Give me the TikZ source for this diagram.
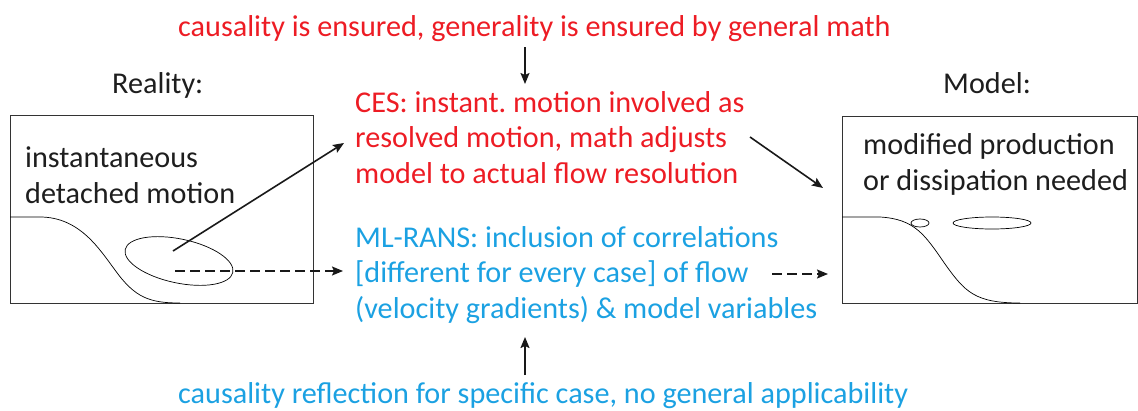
\documentclass[tikz,border=0pt]{standalone}
\usepackage{fontspec}
\setmainfont{Carlito}
\usetikzlibrary{arrows.meta}
\definecolor{cred}{RGB}{237,28,36}
\definecolor{cblue}{RGB}{27,161,226}
\definecolor{ctext}{RGB}{30,30,30}
\frenchspacing
\begin{document}
\begin{tikzpicture}[x=1pt,y=-1pt,
  txt/.style={inner sep=0pt,anchor=base west,align=left,font=\fontsize{30.2}{35.5}\selectfont\frenchspacing},
  frame/.style={draw=black!80,line width=0.9pt},
  thin/.style={draw=black,line width=0.7pt},
  arr/.style={draw=black!90,line width=1.6pt,-{Stealth[length=11pt,width=9pt,inset=2pt]}},
  darr/.style={arr,dash pattern=on 10pt off 5pt}]
\useasboundingbox (0,0) rectangle (1138,410);
% boxes
\node[frame,minimum width=303pt,minimum height=188pt,inner sep=0pt,anchor=north west] (lbox) at (10,115) {};
\node[frame,minimum width=295pt,minimum height=187pt,inner sep=0pt,anchor=north west] (rbox) at (842,116) {};
% curves
\draw[thin] (10,217) -- (40,217) .. controls (80,217) and (100,250) .. (115,270) .. controls (135,298) and (150,303) .. (180,303);
\draw[thin] (842,217) -- (880,217) .. controls (915,219) and (925,235) .. (945,264) .. controls (965,292) and (975,303) .. (1020,303);
% ellipses
\draw[thin,rotate around={-12:(179,261)}] (179,261) ellipse [x radius=55, y radius=22];
\coordinate (ecen) at (173,251);
\coordinate (edash) at (175,271);
\draw[thin] (920,223) ellipse [x radius=9, y radius=4];
\draw[thin] (992,223) ellipse [x radius=39, y radius=6];
% titles
\node[txt,text=ctext] (real) at (112,93) {Reality:};
\node[txt,text=ctext] (model) at (943,93) {Model:};
\node[txt,text=ctext] (ltext) at (25,203) {instantaneous\\detached motion};
\node[txt,text=ctext] (rtext) at (863,190) {modified production\\or dissipation needed};
% center texts
\node[txt,text=cred] (top) at (178,36) {causality is ensured, generality is ensured by general math};
\node[txt,text=cred] (ces) at (355,183) {CES: instant. motion involved as\\resolved motion, math adjusts\\model to actual flow resolution};
\node[txt,text=cblue] (ml) at (355,318) {ML-RANS: inclusion of correlations\\{[}different for every case{]} of flow\\(velocity gradients) \& model variables};
\node[txt,text=cblue] (bot) at (178,403) {causality reflection for specific case, no general applicability};
% arrow coordinates
\coordinate (topA) at (525,47);
\coordinate (topB) at (525,84);
\coordinate (botA) at (525,375);
\coordinate (botB) at (525,337);
\coordinate (cesL) at (344,143);
\coordinate (mlL) at (343,271);
\coordinate (cesR) at (750,137);
\coordinate (rin) at (823,188);
\coordinate (mlR) at (772,274);
\coordinate (rin2) at (828,274);
\draw[arr] (topA) -- (topB);
\draw[arr] (botA) -- (botB);
\draw[arr] (ecen) -- (cesL);
\draw[darr] (edash) -- (mlL);
\draw[arr] (cesR) -- (rin);
\draw[darr] (mlR) -- (rin2);
\end{tikzpicture}
\end{document}
